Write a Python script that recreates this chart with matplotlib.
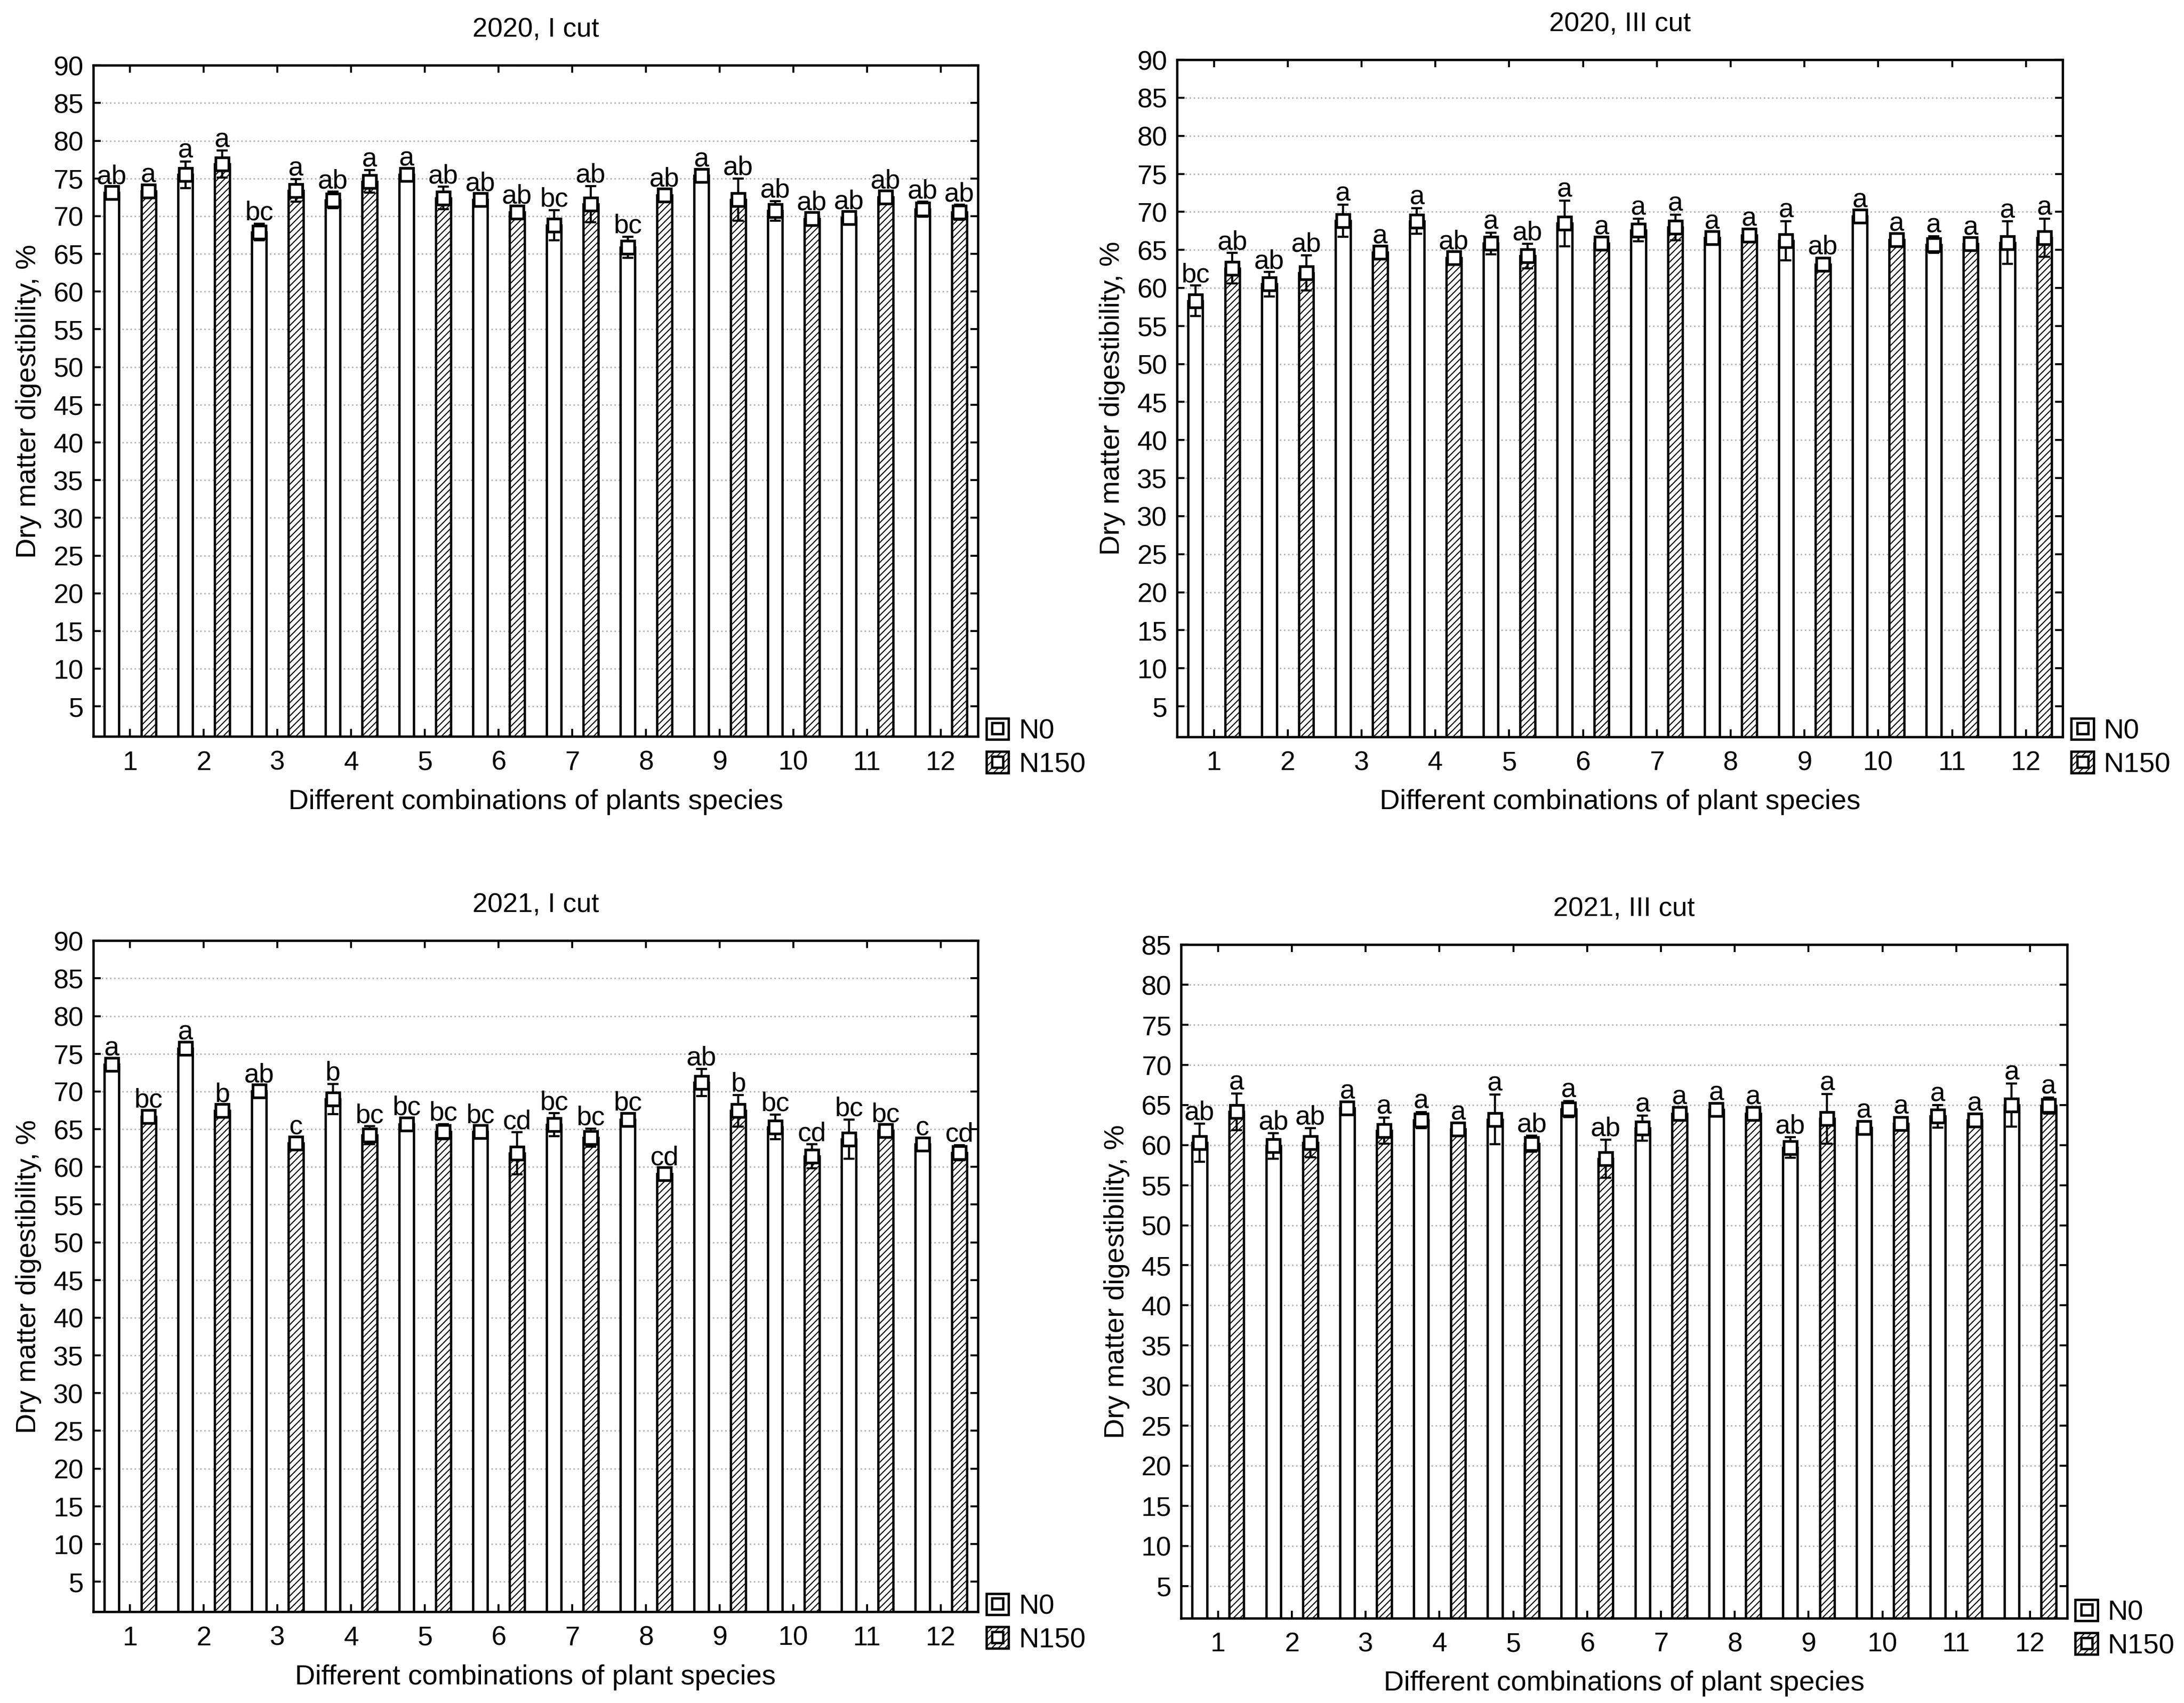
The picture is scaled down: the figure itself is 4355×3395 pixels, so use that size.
import matplotlib
matplotlib.use('Agg')
import matplotlib.pyplot as plt
import numpy as np
from matplotlib.patches import Patch
from matplotlib.lines import Line2D

plt.rcParams['font.family'] = ['Liberation Sans', 'DejaVu Sans']
plt.rcParams['hatch.linewidth'] = 0.55

groups = [1, 2, 3, 4, 5, 6, 7, 8, 9, 10, 11, 12]

# 2020, I cut
p1_n0 = [73.1, 75.5, 67.9, 72.15, 75.5, 72.2, 68.8, 65.9, 75.4, 70.7, 69.8, 70.9]
p1_n0_err = [0.4, 1.75, 1.1, 1.1, 0.4, 0.4, 2.0, 1.4, 0.4, 1.3, 0.4, 1.0]
p1_n150 = [73.3, 76.9, 73.4, 74.6, 72.4, 70.5, 71.6, 72.8, 72.2, 69.65, 72.5, 70.5]
p1_n150_err = [0.5, 1.8, 1.5, 1.5, 1.5, 0.4, 2.4, 0.4, 2.8, 0.5, 0.5, 1.0]
p1_n0_let = ['ab', 'a', 'bc', 'ab', 'a', 'ab', 'bc', 'bc', 'a', 'ab', 'ab', 'ab']
p1_n150_let = ['a', 'a', 'a', 'a', 'ab', 'ab', 'ab', 'ab', 'ab', 'ab', 'ab', 'ab']

# 2020, III cut
p2_n0 = [58.3, 60.5, 68.85, 68.8, 65.85, 68.5, 67.6, 66.6, 66.2, 69.4, 65.7, 65.95]
p2_n0_err = [2.0, 1.6, 2.1, 1.7, 1.4, 3.0, 1.5, 0.4, 2.6, 0.4, 1.1, 2.8]
p2_n150 = [62.6, 62.0, 64.7, 63.95, 64.2, 65.85, 67.95, 66.95, 63.07, 66.3, 65.8, 66.6]
p2_n150_err = [2.0, 2.3, 0.4, 0.4, 1.6, 0.4, 1.7, 0.4, 0.9, 0.4, 0.4, 2.5]
p2_n0_let = ['bc', 'ab', 'a', 'a', 'a', 'a', 'a', 'a', 'a', 'a', 'a', 'a']
p2_n150_let = ['ab', 'ab', 'a', 'ab', 'ab', 'a', 'a', 'a', 'ab', 'a', 'a', 'a']

# 2021, I cut
p3_n0 = [73.6, 75.7, 70.05, 69.0, 65.7, 64.7, 65.6, 66.3, 71.2, 65.3, 63.7, 63.0]
p3_n0_err = [0.4, 0.4, 0.4, 2.0, 0.4, 0.4, 1.5, 0.4, 1.8, 1.65, 2.6, 0.4]
p3_n150 = [66.7, 67.45, 63.15, 64.2, 64.7, 61.8, 63.9, 59.1, 67.45, 61.4, 64.8, 61.9]
p3_n150_err = [0.4, 0.4, 0.4, 1.2, 1.0, 2.8, 1.2, 0.4, 2.1, 1.6, 0.5, 1.0]
p3_n0_let = ['a', 'a', 'ab', 'b', 'bc', 'bc', 'bc', 'bc', 'ab', 'bc', 'bc', 'c']
p3_n150_let = ['bc', 'b', 'c', 'bc', 'bc', 'cd', 'bc', 'cd', 'b', 'cd', 'bc', 'cd']

# 2021, III cut
p4_n0 = [60.3, 59.9, 64.6, 63.1, 63.2, 64.5, 62.1, 64.4, 59.7, 62.2, 63.6, 65.0]
p4_n0_err = [2.35, 1.6, 0.5, 1.0, 3.1, 1.0, 1.55, 0.4, 1.3, 0.4, 1.4, 2.7]
p4_n150 = [64.15, 60.3, 61.8, 62.0, 60.2, 58.3, 63.9, 63.9, 63.3, 62.7, 63.1, 64.95]
p4_n150_err = [2.3, 1.8, 1.6, 0.4, 1.0, 2.4, 0.4, 0.4, 3.1, 0.4, 0.4, 1.0]
p4_n0_let = ['ab', 'ab', 'a', 'a', 'a', 'a', 'a', 'a', 'ab', 'a', 'a', 'a']
p4_n150_let = ['a', 'ab', 'a', 'a', 'ab', 'ab', 'a', 'a', 'a', 'a', 'a', 'a']

titles = ['2020, I cut', '2020, III cut', '2021, I cut', '2021, III cut']
xlabels = ['Different combinations of plants species',
           'Different combinations of plant species',
           'Different combinations of plant species',
           'Different combinations of plant species']
ylabel = 'Dry matter digestibility, %'
ymax = [90, 90, 90, 85]

panels = [
    (p1_n0, p1_n0_err, p1_n150, p1_n150_err, p1_n0_let, p1_n150_let),
    (p2_n0, p2_n0_err, p2_n150, p2_n150_err, p2_n0_let, p2_n150_let),
    (p3_n0, p3_n0_err, p3_n150, p3_n150_err, p3_n0_let, p3_n150_let),
    (p4_n0, p4_n0_err, p4_n150, p4_n150_err, p4_n0_let, p4_n150_let),
]

# axes rectangles (figure fraction)
rects = [
    [0.0427, 0.5674, 0.4050, 0.3941],
    [0.5389, 0.5673, 0.4056, 0.3975],
    [0.0427, 0.0535, 0.4050, 0.3941],
    [0.5408, 0.0499, 0.4056, 0.3953],
]

fig = plt.figure(figsize=(15.68, 12.225))
FS = 14
x = np.array(groups, dtype=float)
off = 0.25
bw = 0.2

for i, (n0, n0e, n150, n150e, l0, l150) in enumerate(panels):
    ax = fig.add_axes(rects[i])
    ax.set_axisbelow(True)
    for xs, m, e, hatch, lets in [(x - off, n0, n0e, None, l0), (x + off, n150, n150e, '///////', l150)]:
        ax.bar(xs, m, width=bw, color='white', edgecolor='black', linewidth=1.2,
               hatch=hatch, zorder=2)
        ax.errorbar(xs, m, yerr=e, fmt='none', ecolor='black', elinewidth=1.1,
                    capsize=2.8, capthick=1.1, zorder=3)
        ax.plot(xs, m, linestyle='none', marker='s', markersize=6.5,
                markerfacecolor='white', markeredgecolor='black', markeredgewidth=1.4, zorder=4)
        for xx, mm, ee, t in zip(xs, m, e, lets):
            top = max(mm + ee, mm + 0.7)
            ax.text(xx, top + 0.5, t, ha='center', va='baseline', fontsize=FS, zorder=5)

    ax.set_xlim(0.5, 12.5)
    ax.set_ylim(1, ymax[i])
    ax.set_yticks(np.arange(5, ymax[i] + 1, 5))
    ax.set_xticks(groups)
    ax.grid(axis='y', linestyle=':', color='#b8b8b8', linewidth=0.8)
    ax.tick_params(direction='in', top=True, right=True, length=4, width=1,
                   labelsize=FS)
    ax.tick_params(axis='x', pad=7)
    ax.tick_params(axis='y', pad=5)
    for s in ax.spines.values():
        s.set_linewidth(1.2)
    ax.set_title(titles[i], fontsize=FS, pad=15)
    ax.set_xlabel(xlabels[i], fontsize=14.5, labelpad=7)
    ax.set_ylabel(ylabel, fontsize=14.5, labelpad=6)

    h0 = (Patch(facecolor='white', edgecolor='black', linewidth=1.2),
          Line2D([], [], linestyle='none', marker='s', markersize=5.5, markerfacecolor='white',
                 markeredgecolor='black', markeredgewidth=1.2))
    h1 = (Patch(facecolor='white', edgecolor='black', linewidth=1.2, hatch='///////'),
          Line2D([], [], linestyle='none', marker='s', markersize=5.5, markerfacecolor='white',
                 markeredgecolor='black', markeredgewidth=1.2))
    ax.legend([h0, h1], ['N0', 'N150'], loc='upper left', bbox_to_anchor=(1.0, 0.04),
              frameon=False, fontsize=14.5, handlelength=0.8, handleheight=0.8,
              handletextpad=0.35, labelspacing=0.25, borderaxespad=0.2, borderpad=0.1)

fig.savefig('out.png', dpi=277.75, facecolor='white')
